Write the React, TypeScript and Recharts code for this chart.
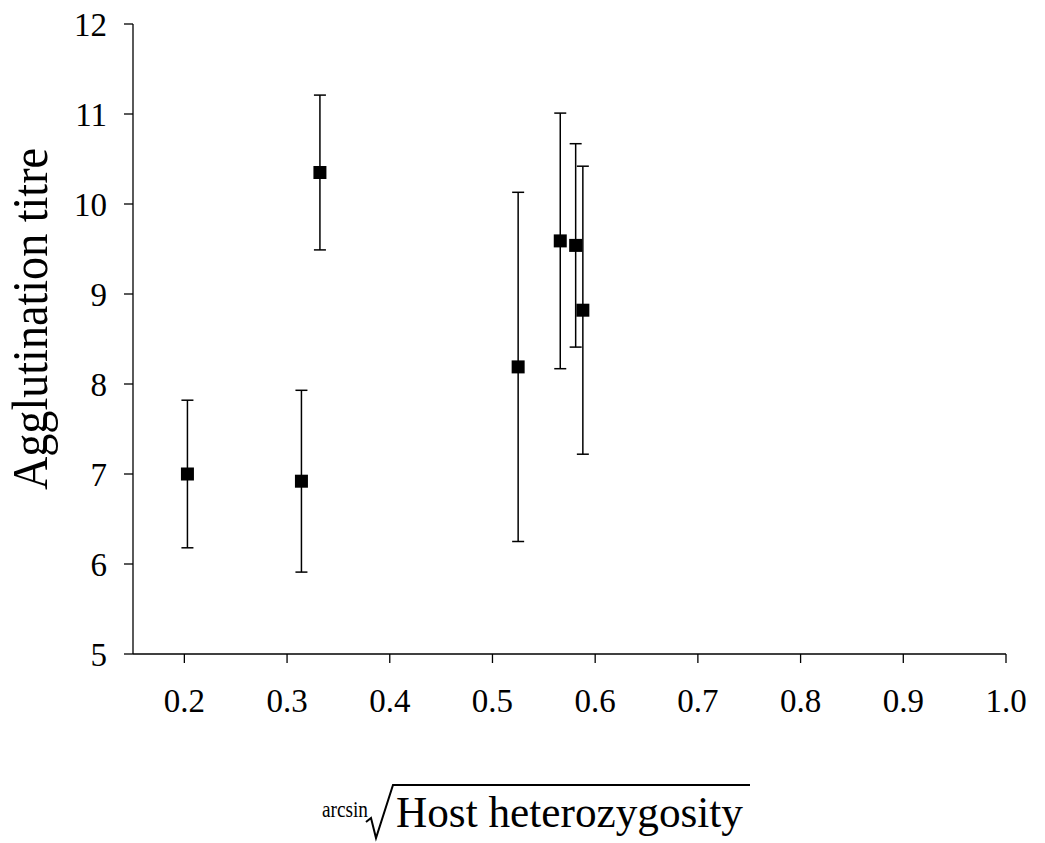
import { ScatterChart, Scatter, XAxis, YAxis, ErrorBar, Label } from 'recharts'

const heterozygosity = [0.203, 0.314, 0.332, 0.525, 0.566, 0.581, 0.588]
const titre = [7.0, 6.92, 10.35, 8.19, 9.59, 9.54, 8.82]
const titreErr = [0.82, 1.01, 0.86, 1.94, 1.42, 1.13, 1.6]
const xTicks = [0.2, 0.3, 0.4, 0.5, 0.6, 0.7, 0.8, 0.9, 1.0]
const yTicks = [5, 6, 7, 8, 9, 10, 11, 12]

const data = heterozygosity.map((x, i) => ({ x, y: titre[i], err: titreErr[i] }))

const FONT = '"Liberation Serif", "Times New Roman", serif'

function SquareDot(props: any) {
  const { cx, cy } = props
  if (cx == null || cy == null) return null
  return <rect x={cx - 6.5} y={cy - 6.5} width={13} height={13} fill="#000" />
}

function XTitle() {
  return (
    <g fontFamily={FONT} fill="#000">
      <text x={322} y={817} fontSize={23} textLength={46} lengthAdjust="spacingAndGlyphs">arcsin</text>
      <path d="M366,822 L371,818 L376,838 L393,785 L750,785" fill="none" stroke="#000" strokeWidth={2} />
      <text x={396} y={827} fontSize={44} textLength={347} lengthAdjust="spacingAndGlyphs">Host heterozygosity</text>
    </g>
  )
}

function YTitle() {
  return (
    <text
      x={47}
      y={319}
      transform="rotate(-90, 47, 319)"
      textAnchor="middle"
      fontFamily={FONT}
      fontSize={50}
      textLength={342}
      lengthAdjust="spacingAndGlyphs"
      fill="#000"
    >
      Agglutination titre
    </text>
  )
}

export default function App() {
  return (
    <div style={{ position: 'absolute', left: 0, top: 0, background: '#fff' }}>
      <ScatterChart
        width={1045}
        height={843}
        margin={{ top: 24, right: 39, bottom: 0, left: 0 }}
        style={{ fontFamily: FONT }}
      >
        <XAxis
          type="number"
          dataKey="x"
          domain={[0.15, 1.0]}
          ticks={xTicks}
          allowDataOverflow
          tickFormatter={(v: number) => v.toFixed(1)}
          height={189}
          tickSize={9}
          tickMargin={26}
          axisLine={{ stroke: '#000', strokeWidth: 1.3 }}
          tickLine={{ stroke: '#000', strokeWidth: 1.3 }}
          tick={{ fontSize: 33, fill: '#000', fontFamily: FONT }}
        >
          <Label content={() => <XTitle />} />
        </XAxis>
        <YAxis
          type="number"
          dataKey="y"
          domain={[5, 12]}
          ticks={yTicks}
          width={133}
          tickSize={9}
          tickMargin={17}
          axisLine={{ stroke: '#000', strokeWidth: 1.3 }}
          tickLine={{ stroke: '#000', strokeWidth: 1.3 }}
          tick={{ fontSize: 33, fill: '#000', fontFamily: FONT }}
        >
          <Label content={() => <YTitle />} />
        </YAxis>
        <Scatter data={data} shape={<SquareDot />} isAnimationActive={false}>
          <ErrorBar dataKey="err" direction="y" width={6} stroke="#000" strokeWidth={1.5} isAnimationActive={false} />
        </Scatter>
      </ScatterChart>
    </div>
  )
}
